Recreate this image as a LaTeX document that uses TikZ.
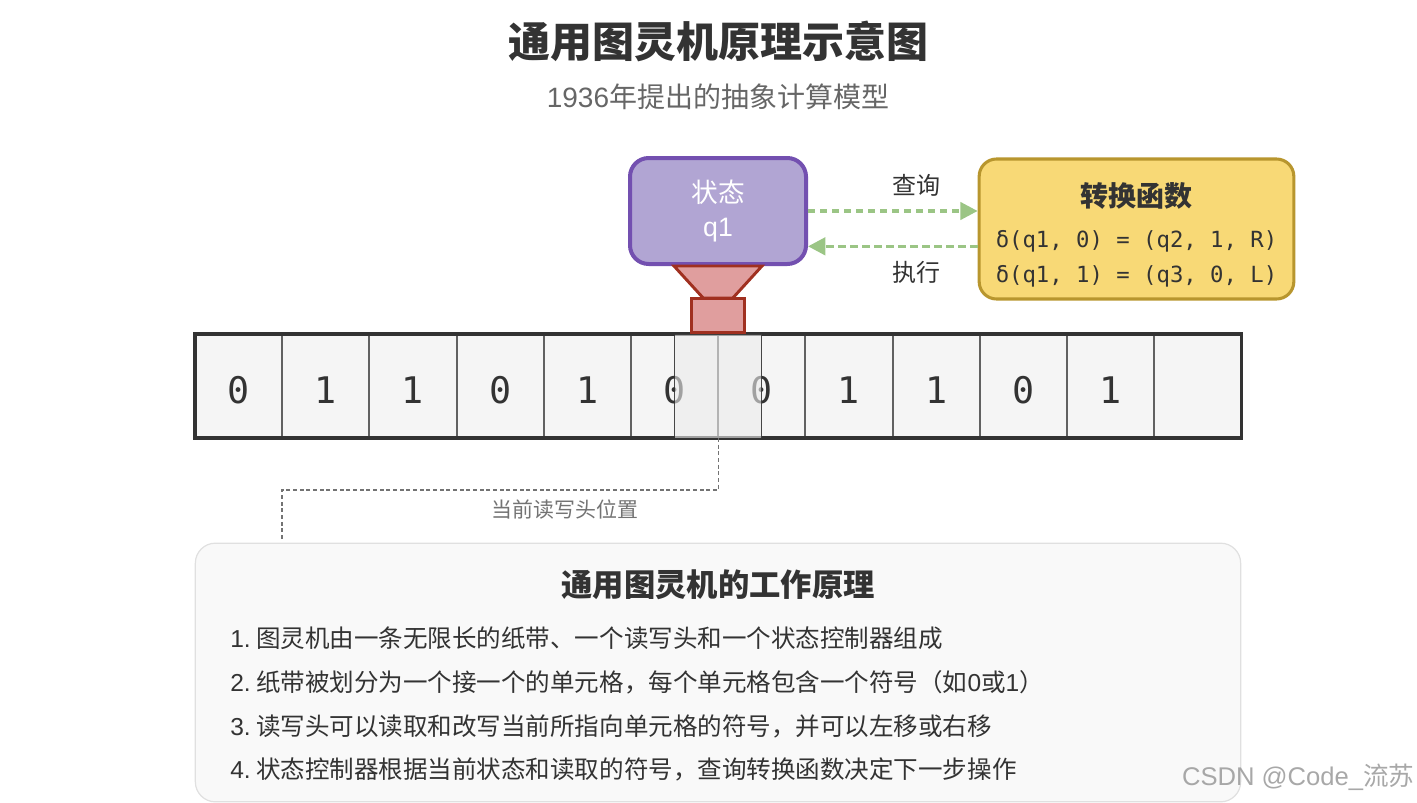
\documentclass[tikz,border=0pt]{standalone}
\usepackage{fontspec}
\usepackage{xcolor}
\usetikzlibrary{arrows.meta}
\usetikzlibrary{positioning}
\setmainfont{Noto Sans CJK SC}
\newfontfamily\latinfont{Liberation Sans}
\newfontfamily\codefont{DejaVu Sans Mono}
\definecolor{inkdark}{HTML}{333333}
\definecolor{stateback}{HTML}{B1A5D3}
\definecolor{stateline}{HTML}{7350B0}
\definecolor{ruleback}{HTML}{F8D976}
\definecolor{ruleline}{HTML}{B8962E}
\definecolor{headback}{HTML}{E09E9E}
\definecolor{headline}{HTML}{A03020}
\definecolor{flowgreen}{HTML}{9BC585}
\tikzset{
  titulo/.style={text=inkdark, font=\fontsize{31.5}{36}\selectfont\bfseries},
  subtitulo/.style={text=black!60, font=\fontsize{21}{25}\selectfont},
  estado/.style={draw=stateline, fill=stateback, line width=3pt, rounded corners=14pt, minimum width=132pt, minimum height=79.5pt, align=center, text=white, inner sep=0pt, font=\fontsize{20}{24}\selectfont},
  regras/.style={draw=ruleline, fill=ruleback, line width=2.3pt, rounded corners=13pt, minimum width=236pt, minimum height=105pt, align=center, inner sep=0pt, text=inkdark, font=\fontsize{16.7}{26.25}\selectfont},
  funil/.style={draw=headline, fill=headback, line width=2.2pt},
  bocal/.style={draw=headline, fill=headback, line width=2.2pt, minimum width=40pt, minimum height=26pt, inner sep=0pt, outer sep=0pt},
  celula/.style={draw=black!62, fill=black!4, line width=1.5pt, minimum width=65.4pt, minimum height=78pt, inner sep=0pt, outer sep=0pt, text=inkdark, text height=26pt, text depth=0pt, font=\codefont\fontsize{27.5}{30}\selectfont},
  janela/.style={draw=black!80, line width=.7pt, fill=black!8, fill opacity=.6, draw opacity=.9, minimum width=65.4pt, minimum height=78pt, inner sep=0pt, outer sep=0pt},
  seta/.style={-{Triangle[length=13pt,width=13pt]}, flowgreen, line width=2.6pt, dash pattern=on 5.5pt off 3.5pt},
  rotulo/.style={text=inkdark, font=\fontsize{18}{22}\selectfont},
  guia/.style={draw=black!55, line width=1pt, dash pattern=on 3pt off 2pt},
  quadro/.style={draw=black!12, fill=black!2.5, line width=.9pt, rounded corners=15pt, minimum width=784pt, minimum height=194pt, inner sep=0pt},
}

\begin{document}
\begin{tikzpicture}[x=0.75pt, y=-0.75pt]
  \useasboundingbox (0,0) rectangle (1417,803);
  \node[titulo] (title) at (718,41) {通用图灵机原理示意图};
  \node[subtitulo] (subtitle) at (718,97) {{\latinfont 1936}年提出的抽象计算模型};

  % fita
  \node[celula] (c1) at (238.6,386) {0};
  \node[celula, right=0pt of c1] (c2) {1};
  \node[celula, right=0pt of c2] (c3) {1};
  \node[celula, right=0pt of c3] (c4) {0};
  \node[celula, right=0pt of c4] (c5) {1};
  \node[celula, right=0pt of c5] (c6) {0};
  \node[celula, right=0pt of c6] (c7) {0};
  \node[celula, right=0pt of c7] (c8) {1};
  \node[celula, right=0pt of c8] (c9) {1};
  \node[celula, right=0pt of c9] (c10) {0};
  \node[celula, right=0pt of c10] (c11) {1};
  \node[celula, right=0pt of c11] (c12) {};
  \draw[inkdark, line width=2.5pt] (c1.north west) rectangle (c12.south east);
  \node[janela] (window) at (c6.east) {};

  % cabeca e estado
  \node[bocal] (nozzle) at (718,315.5) {};
  \node[estado] (state) at (718,211) {状态\\[1pt]{\latinfont q1}};
  \draw[funil] ([xshift=-33pt]state.south) -- ([xshift=33pt]state.south) -- ([xshift=11pt]nozzle.north) -- ([xshift=-11pt]nozzle.north) -- cycle;
  \node[regras] (rules) at (1136.5,229) {\rule{0pt}{27pt}{\fontsize{21}{26}\selectfont\bfseries 转换函数}\\[4.75pt]{\codefont δ(q1, 0) = (q2, 1, R)}\\{\codefont δ(q1, 1) = (q3, 0, L)}};
  \draw[seta] (state.east) -- node[rotulo, pos=.64, above=6pt] (ask) {查询} (state.east -| rules.west);
  \draw[seta] ([yshift=-13pt]rules.west) -- node[rotulo, pos=.36, below=6.7pt] (run) {执行} ([yshift=-13pt]rules.west -| state.east);

  % quadro de baixo
  \coordinate (leadend) at (282,540);
  \draw[guia] (window.south) -- ++(0,52) -| (leadend);
  \node[text=black!55, font=\fontsize{15.7}{19}\selectfont] (leadtext) at (565,510) {当前读写头位置};
  \node[quadro] (panel) at (718,672.5) {};
  \node[text=inkdark, font=\fontsize{23.5}{28}\selectfont\bfseries] (paneltitle) at (718,585) {通用图灵机的工作原理};
  \node[anchor=north west, align=left, inner sep=0pt, text=inkdark, font=\fontsize{18.4}{32.75}\selectfont] (steps) at (230,627) {%
    {\latinfont 1.}\hspace{4pt}图灵机由一条无限长的纸带、一个读写头和一个状态控制器组成\\
    {\latinfont 2.}\hspace{4pt}纸带被划分为一个接一个的单元格，每个单元格包含一个符号（如{\latinfont 0}或{\latinfont 1}）\\
    {\latinfont 3.}\hspace{4pt}读写头可以读取和改写当前所指向单元格的符号，并可以左移或右移\\
    {\latinfont 4.}\hspace{4pt}状态控制器根据当前状态和读取的符号，查询转换函数决定下一步操作};
  \node[anchor=east, text=black!40, fill opacity=.85, text opacity=.85, font=\fontsize{19.2}{24}\selectfont] (mark) at (1419,777) {{\latinfont CSDN @Code\_}流苏};
\end{tikzpicture}
\end{document}
